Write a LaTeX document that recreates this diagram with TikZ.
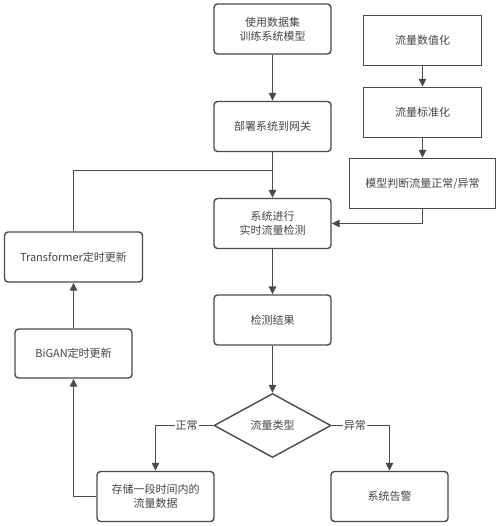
\documentclass[tikz,border=0pt]{standalone}
\usepackage{fontspec}
\setmainfont{Noto Sans CJK SC}
\usetikzlibrary{arrows.meta,shapes.geometric}
\definecolor{lncol}{HTML}{4A4A4A}
\definecolor{txcol}{HTML}{444444}
\begin{document}
\begin{tikzpicture}[x=1pt,y=-1pt,
  base/.style={draw=lncol,line width=1.4pt,text=txcol,font=\fontsize{11pt}{14pt}\selectfont,align=center,inner sep=0pt},
  rbox/.style={base,rounded corners=3.5pt,minimum width=117pt,minimum height=50pt},
  sbox/.style={base,minimum width=118pt,minimum height=50pt},
  dia/.style={base,diamond,aspect=1.83,minimum width=117pt,minimum height=64pt},
  arr/.style={draw=lncol,line width=1.4pt,-{Triangle[length=8pt,width=7.5pt]}},
  plain/.style={draw=lncol,line width=1.4pt},
  lab/.style={fill=white,text=txcol,font=\fontsize{11pt}{14pt}\selectfont,inner sep=1pt}]
\useasboundingbox (0,0) rectangle (500,526);
\node[rbox] (b1) at (272.5,29) {使用数据集\\训练系统模型};
\node[rbox] (b2) at (272.5,126.5) {部署系统到网关};
\node[rbox] (b3) at (272.5,223.5) {系统进行\\实时流量检测};
\node[sbox] (r1) at (422.5,40.5) {流量数值化};
\node[sbox] (r2) at (422.5,112.5) {流量标准化};
\node[sbox,minimum width=146pt,minimum height=50pt] (r3) at (422.5,183.5) {模型判断流量正常/异常};
\node[rbox,minimum width=138pt] (tf) at (73.5,257) {Transformer定时更新};
\node[rbox] (res) at (272.5,320) {检测结果};
\node[dia] (d) at (272.5,425.5) {流量类型};
\node[rbox,minimum height=49pt] (bg) at (73.5,353.5) {BiGAN定时更新};
\node[rbox] (st) at (155.5,496.5) {存储一段时间内的\\流量数据};
\node[rbox] (al) at (389.5,496.5) {系统告警};
\coordinate (m) at (272.5,170.5);
\draw[arr] (b1) -- (b2);
\draw[arr] (b2) -- (b3);
\draw[plain] (tf.north) |- (m);
\draw[arr] (r1) -- (r2);
\draw[arr] (r2) -- (r3);
\draw[arr] (r3.south) |- (b3.east);
\draw[arr] (b3) -- (res);
\draw[arr] (res) -- (d);
\draw[arr] (d.west) -| node[lab,pos=0.23] {正常} (st.north);
\draw[arr] (d.east) -| node[lab,pos=0.2] {异常} (al.north);
\draw[arr] (st.west) -| (bg.south);
\draw[arr] (bg) -- (tf);
\end{tikzpicture}
\end{document}
